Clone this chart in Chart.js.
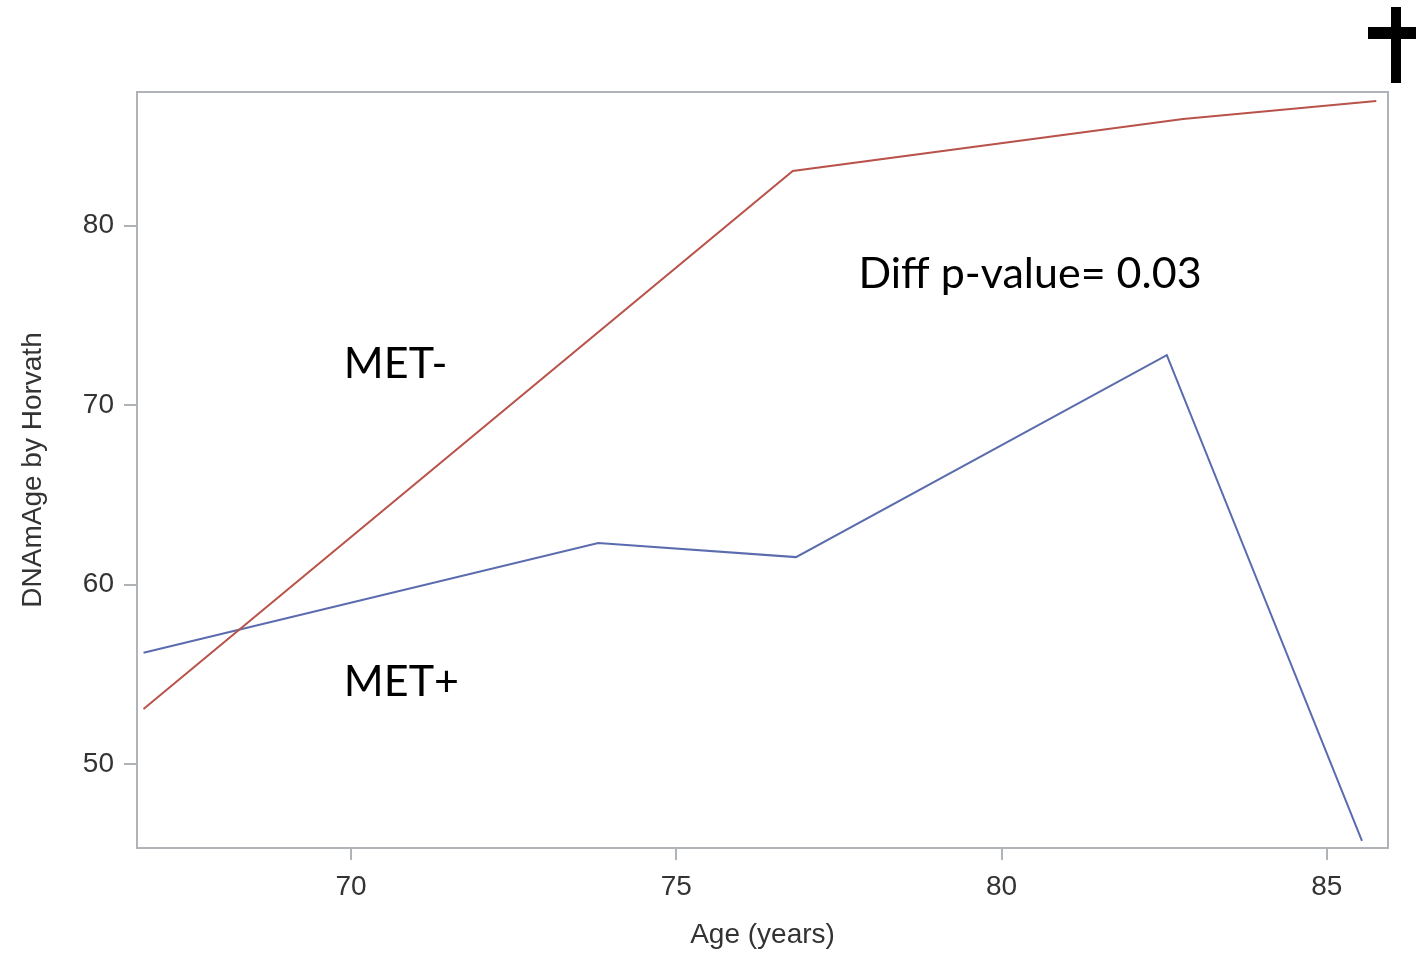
<!DOCTYPE html>
<html>
<head>
<meta charset="utf-8">
<title>DNAmAge by Horvath</title>
<script src="https://cdn.jsdelivr.net/npm/chart.js@4.4.0/dist/chart.umd.min.js"></script>
<style>
  html, body { margin: 0; padding: 0; background: #fff; }
  #wrap { width: 1416px; height: 953px; }
</style>
</head>
<body>
<div id="wrap"><canvas id="chart" width="1416" height="953"></canvas></div>
<script>
// --- DATA ---
// MET- group (red line)
const metMinusAge = [66.81, 76.79, 82.79, 85.76];
const metMinusDNAmAge = [53.07, 83.05, 85.95, 86.95];

// MET+ group (blue line)
const metPlusAge = [66.81, 73.80, 76.84, 82.54, 85.54];
const metPlusDNAmAge = [56.2, 62.31, 61.53, 72.79, 45.72];

// axis ranges / ticks
const xRange = [66.71, 85.94];
const yRange = [45.32, 87.45];
const xStep = 5;
const yStep = 10;

// text labels placed in data space
const labelTexts = ["MET-", "MET+", "Diff p-value= 0.03"];
const labelX = [69.89, 69.89, 77.80];
const labelY = [71.51, 53.78, 76.52];

// --- COLORS ---
const RED = '#b9524a';
const BLUE = '#5b6cae';
const FRAME = '#b0b4b8';
const TEXT = '#333333';

const toPoints = (xs, ys) => xs.map((x, i) => ({ x: x, y: ys[i] }));

// frame, annotations and panel mark
const extrasPlugin = {
  id: 'extras',
  beforeDatasetsDraw(chart) {
    const { ctx, chartArea } = chart;
    ctx.save();
    ctx.strokeStyle = FRAME;
    ctx.lineWidth = 2;
    ctx.strokeRect(chartArea.left, chartArea.top,
      chartArea.right - chartArea.left, chartArea.bottom - chartArea.top);
    ctx.restore();
  },
  afterDatasetsDraw(chart) {
    const { ctx, scales } = chart;
    ctx.save();
    ctx.fillStyle = '#000';
    ctx.font = '43px Lato';
    ctx.textAlign = 'left';
    ctx.textBaseline = 'alphabetic';
    labelTexts.forEach((t, i) => {
      ctx.fillText(t, scales.x.getPixelForValue(labelX[i]), scales.y.getPixelForValue(labelY[i]));
    });
    // the cross in the top right corner
    ctx.fillRect(1391, 7, 10, 76);
    ctx.fillRect(1368, 27, 56, 12);
    ctx.restore();
  }
};

const ctx = document.getElementById('chart').getContext('2d');
new Chart(ctx, {
  type: 'line',
  data: {
    datasets: [
      {
        label: 'MET-',
        data: toPoints(metMinusAge, metMinusDNAmAge),
        borderColor: RED,
        borderWidth: 2,
        pointRadius: 0,
        tension: 0
      },
      {
        label: 'MET+',
        data: toPoints(metPlusAge, metPlusDNAmAge),
        borderColor: BLUE,
        borderWidth: 2,
        pointRadius: 0,
        tension: 0
      }
    ]
  },
  options: {
    responsive: false,
    animation: false,
    layout: { padding: { top: 92, right: 28, left: 0, bottom: 0 } },
    plugins: {
      legend: { display: false },
      tooltip: { enabled: false }
    },
    scales: {
      x: {
        type: 'linear',
        min: xRange[0],
        max: xRange[1],
        afterFit: (s) => { s.height = 105; },
        border: { display: false },
        grid: { drawOnChartArea: false, drawTicks: true, tickLength: 12, color: FRAME, lineWidth: 2 },
        ticks: {
          stepSize: xStep,
          includeBounds: false,
          padding: 10,
          color: TEXT,
          font: { family: 'Liberation Sans', size: 28 }
        },
        title: {
          display: true,
          text: 'Age (years)',
          color: TEXT,
          font: { family: 'Liberation Sans', size: 28, lineHeight: 1.2 },
          padding: { top: 0, bottom: 1 }
        }
      },
      y: {
        type: 'linear',
        min: yRange[0],
        max: yRange[1],
        afterFit: (s) => { s.width = 137; },
        border: { display: false },
        grid: { drawOnChartArea: false, drawTicks: true, tickLength: 13, color: FRAME, lineWidth: 2 },
        ticks: {
          stepSize: yStep,
          includeBounds: false,
          padding: 10,
          color: TEXT,
          font: { family: 'Liberation Sans', size: 28 }
        },
        title: {
          display: true,
          text: 'DNAmAge by Horvath',
          color: TEXT,
          font: { family: 'Liberation Sans', size: 28, lineHeight: 1.2 },
          padding: { top: 16, bottom: 0 }
        }
      }
    }
  },
  plugins: [extrasPlugin]
});
</script>
</body>
</html>
